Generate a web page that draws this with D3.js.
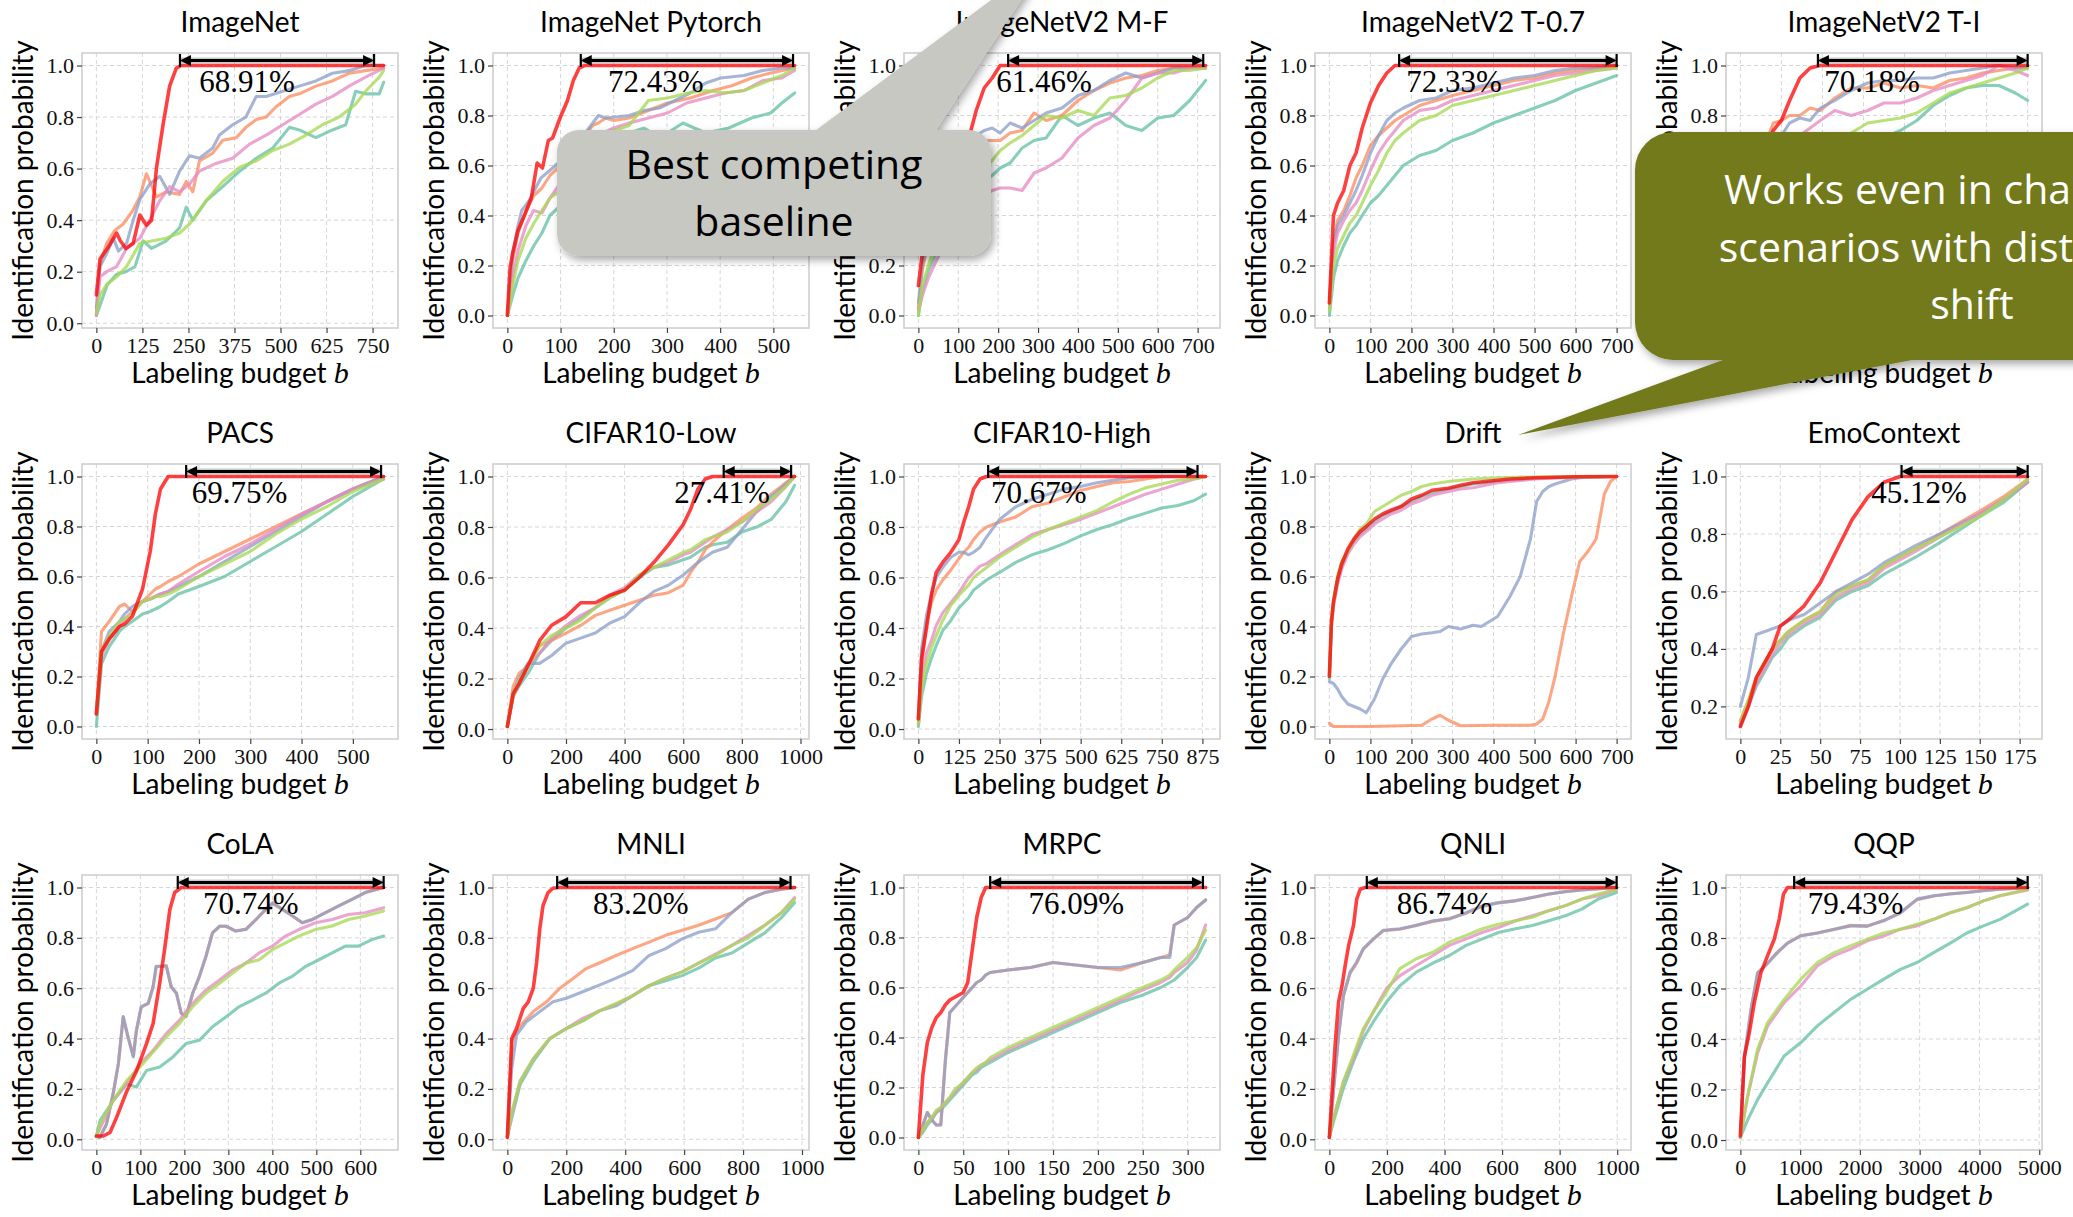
<!DOCTYPE html>
<html><head><meta charset="utf-8">
<script src="https://cdn.jsdelivr.net/npm/d3@7"></script>
<style>body{margin:0;background:#fff;} svg{display:block;}</style>
</head><body>
<script>
// ---------------- DATA ----------------
const SERIES_NAMES = ["Ours", "Baseline A", "Baseline B", "Baseline C", "Baseline D", "Baseline E"];
const SERIES_COLORS = ["#ff0000", "#66c2a5", "#fc8d62", "#8da0cb", "#e78ac3", "#a6d854"];

const TITLES = ["ImageNet", "ImageNet Pytorch", "ImageNetV2 M-F", "ImageNetV2 T-0.7", "ImageNetV2 T-I",
  "PACS", "CIFAR10-Low", "CIFAR10-High", "Drift", "EmoContext",
  "CoLA", "MNLI", "MRPC", "QNLI", "QQP"];

const X_TICKS = [
  [0,125,250,375,500,625,750], [0,100,200,300,400,500], [0,100,200,300,400,500,600,700],
  [0,100,200,300,400,500,600,700], [0,100,200,300,400,500,600,700],
  [0,100,200,300,400,500], [0,200,400,600,800,1000], [0,125,250,375,500,625,750,875],
  [0,100,200,300,400,500,600,700], [0,25,50,75,100,125,150,175],
  [0,100,200,300,400,500,600], [0,200,400,600,800,1000], [0,50,100,150,200,250,300],
  [0,200,400,600,800,1000], [0,1000,2000,3000,4000,5000]];
const Y_TICKS = [0, 0.2, 0.4, 0.6, 0.8, 1.0];

// gap annotation: arrow start / end (budget), label, label position (budget)
const GAP_START = [227, 138, 225, 170, 189, 175, 738, 215, null, 101, 185, 169, 80, 130, 900];
const GAP_END   = [754, 537, 714, 700, 700, 555, 968, 860, null, 180, 653, 961, 317, 998, 4806];
const GAP_LABEL = ["68.91%", "72.43%", "61.46%", "72.33%", "70.18%", "69.75%", "27.41%", "70.67%", null,
  "45.12%", "70.74%", "83.20%", "76.09%", "86.74%", "79.43%"];
const GAP_LABEL_X = [409, 279, 315, 304, 321, 279, 732, 371, null, 112, 351, 453, 176, 400, 1928];

// series order in each panel: [ours(red), teal, orange, purple, pink, green]
const imagenet = [
  [[0,.11],[10,.25],[30,.29],[55,.35],[65,.32],[80,.29],[100,.31],[118,.42],[136,.38],[150,.40],[163,.60],[181,.77],[199,.92],[217,.99],[231,1],[780,1]],
  [[0,.03],[10,.07],[30,.15],[55,.19],[80,.20],[105,.22],[127,.32],[150,.29],[190,.32],[226,.37],[244,.45],[262,.40],[298,.475],[343,.53],[389,.59],[434,.64],[479,.68],[524,.76],[551,.75],[596,.72],[641,.75],[677,.77],[704,.90],[731,.89],[768,.89],[780,.935]],
  [[0,.035],[10,.23],[28,.31],[50,.36],[73,.385],[100,.44],[118,.49],[136,.58],[163,.49],[190,.51],[226,.50],[244,.55],[262,.51],[280,.63],[316,.66],[343,.71],[380,.72],[406,.76],[434,.79],[461,.80],[488,.84],[524,.88],[551,.89],[596,.92],[641,.94],[686,.97],[731,.98],[780,.99]],
  [[0,.06],[10,.22],[28,.27],[46,.33],[60,.28],[82,.31],[100,.40],[118,.48],[145,.54],[172,.57],[199,.50],[226,.59],[253,.65],[280,.64],[316,.68],[334,.73],[370,.77],[406,.80],[434,.88],[461,.88],[506,.90],[551,.92],[596,.94],[641,.97],[686,.98],[731,1.0],[780,1.0]],
  [[0,.03],[10,.18],[28,.20],[55,.22],[82,.29],[118,.33],[145,.40],[172,.475],[199,.53],[226,.51],[253,.54],[280,.59],[325,.62],[370,.64],[416,.695],[461,.73],[506,.77],[551,.81],[596,.85],[641,.88],[686,.92],[731,.955],[780,.99]],
  [[0,.04],[10,.11],[28,.15],[55,.18],[82,.22],[118,.31],[154,.32],[190,.33],[226,.35],[253,.385],[298,.475],[343,.55],[389,.605],[434,.63],[479,.67],[524,.695],[569,.73],[614,.77],[659,.80],[704,.85],[731,.90],[768,.955],[780,.98]]
];

const pytorch = [
  [[0,0],[5,.19],[10,.25],[20,.34],[34,.41],[45,.47],[56,.61],[66,.59],[77,.70],[85,.71],[99,.79],[113,.86],[124,.94],[135,.99],[145,1],[540,1]],
  [[0,0],[10,.08],[20,.15],[35,.22],[50,.28],[65,.33],[80,.40],[100,.44],[120,.52],[140,.58],[160,.63],[180,.68],[200,.71],[230,.73],[257,.75],[280,.72],[301,.73],[330,.77],[373,.73],[416,.75],[459,.79],[495,.81],[516,.85],[540,.89]],
  [[0,0],[10,.22],[20,.33],[35,.42],[50,.48],[65,.51],[80,.56],[100,.60],[120,.64],[140,.70],[160,.76],[171,.77],[185,.79],[200,.78],[229,.79],[265,.82],[301,.85],[344,.87],[387,.90],[423,.92],[459,.95],[495,.97],[540,.99]],
  [[0,0],[10,.25],[20,.36],[27,.42],[41,.46],[63,.55],[85,.59],[106,.63],[130,.68],[150,.74],[171,.80],[185,.79],[229,.80],[257,.82],[286,.83],[315,.86],[344,.89],[373,.93],[401,.95],[445,.96],[480,.98],[516,.99],[540,.99]],
  [[0,0],[10,.15],[20,.26],[35,.36],[49,.42],[65,.41],[80,.47],[100,.53],[120,.58],[140,.64],[160,.69],[180,.73],[200,.75],[229,.77],[265,.79],[301,.81],[337,.85],[373,.87],[409,.89],[445,.90],[480,.94],[516,.95],[540,.98]],
  [[0,0],[10,.12],[20,.22],[35,.31],[50,.37],[65,.42],[80,.47],[100,.50],[120,.56],[140,.62],[160,.68],[180,.72],[200,.74],[229,.76],[265,.86],[301,.87],[340,.89],[373,.90],[409,.89],[445,.90],[480,.93],[516,.96],[540,.99]]
];

const mf_x = [0,10,25,45,65,85,105,125,145,165,185,205,230,260,290,320,360,400,440,480,520,560,600,640,680,720];
const mf = [
  [.12,.25,.33,.42,.50,.55,.60,.70,.82,.91,.95,1,1,1,1,1,1,1,1,1,1,1,1,1,1,1],
  [0,.10,.18,.25,.32,.38,.43,.48,.51,.54,.56,.59,.61,.67,.70,.71,.80,.76,.79,.81,.76,.74,.79,.80,.86,.94],
  [.03,.18,.30,.40,.50,.57,.62,.66,.69,.70,.70,.70,.73,.74,.81,.78,.80,.86,.90,.93,.95,.96,.98,.99,.99,.99],
  [.05,.20,.35,.45,.55,.62,.66,.70,.72,.74,.75,.73,.77,.75,.78,.81,.83,.88,.90,.94,.97,.95,.97,.99,.99,.99],
  [.02,.08,.15,.22,.28,.33,.38,.42,.46,.48,.50,.51,.51,.50,.57,.59,.63,.71,.76,.79,.86,.95,.97,.97,.99,.99],
  [0,.12,.20,.30,.38,.44,.50,.54,.57,.59,.62,.66,.69,.72,.76,.80,.79,.82,.80,.87,.88,.91,.95,.98,.98,.99]
];

const t07_x = [0,10,20,35,50,65,80,100,120,140,160,180,220,260,300,350,400,450,500,550,600,650,700];
const t07 = [
  [.05,.40,.45,.50,.60,.65,.75,.85,.92,.97,1,1,1,1,1,1,1,1,1,1,1,1,1],
  [0,.15,.22,.28,.33,.36,.40,.45,.48,.52,.56,.60,.64,.66,.70,.73,.77,.80,.83,.86,.90,.93,.96],
  [.05,.30,.38,.42,.48,.55,.60,.68,.72,.75,.78,.80,.84,.86,.88,.90,.92,.94,.95,.97,.98,.99,1.0],
  [.05,.28,.36,.40,.45,.50,.56,.65,.72,.78,.81,.83,.86,.87,.90,.91,.93,.95,.96,.98,.99,.99,1.0],
  [.03,.25,.33,.38,.42,.45,.50,.58,.65,.70,.74,.78,.82,.83,.86,.88,.90,.92,.94,.96,.97,.98,.99],
  [.02,.20,.27,.32,.37,.40,.45,.52,.58,.65,.70,.73,.78,.80,.84,.86,.88,.90,.92,.94,.96,.98,.99]
];

const ti_x = [0,20,40,60,80,100,120,145,170,195,230,270,310,350,390,430,470,510,550,590,630,670,700];
const ti = [
  [.05,.45,.55,.65,.74,.78,.86,.95,.99,1,1,1,1,1,1,1,1,1,1,1,1,1,1],
  [0,.15,.25,.32,.38,.42,.47,.52,.56,.60,.63,.66,.68,.71,.74,.78,.84,.88,.91,.92,.92,.89,.86],
  [.05,.40,.55,.68,.77,.78,.80,.80,.83,.82,.87,.91,.91,.93,.91,.92,.91,.94,.95,.97,.98,.99,.99],
  [.05,.30,.45,.58,.66,.72,.77,.79,.78,.83,.86,.90,.93,.94,.94,.95,.95,.97,.98,.99,1.0,.99,.99],
  [.03,.25,.38,.48,.56,.62,.68,.72,.75,.78,.82,.80,.82,.85,.85,.87,.90,.92,.94,.96,1.0,.98,.96],
  [.02,.20,.30,.38,.45,.50,.55,.60,.64,.67,.70,.73,.77,.78,.79,.81,.85,.89,.91,.93,.95,.97,.99]
];

const pacs_x = [0,10,25,45,55,70,90,105,115,125,140,160,200,250,300,350,400,450,500,560];
const pacs = [
  [.05,.30,.35,.40,.41,.44,.55,.70,.85,.95,1,1,1,1,1,1,1,1,1,1],
  [0,.25,.32,.38,.40,.42,.45,.46,.47,.48,.50,.53,.56,.60,.66,.72,.78,.85,.92,.99],
  [.05,.38,.42,.48,.49,.46,.50,.53,.55,.56,.58,.60,.65,.70,.75,.80,.85,.90,.95,1.0],
  [.05,.30,.38,.42,.45,.48,.50,.51,.52,.53,.54,.56,.60,.66,.72,.78,.84,.90,.95,1.0],
  [.05,.28,.35,.40,.43,.46,.50,.51,.52,.53,.54,.57,.62,.68,.73,.79,.85,.90,.95,.99],
  [.05,.30,.36,.42,.43,.45,.50,.51,.52,.52,.53,.55,.60,.65,.70,.77,.83,.88,.94,.99]
];

const cifarLow_x = [0,20,40,70,110,150,200,250,300,350,400,450,500,550,600,625,650,675,700,750,800,850,900,950,980];
const cifarLow = [
  [.01,.14,.18,.25,.35,.41,.445,.50,.50,.53,.55,.60,.66,.73,.81,.87,.95,.99,1,1,1,1,1,1,1],
  [.01,.13,.17,.22,.30,.35,.40,.44,.48,.52,.55,.60,.64,.65,.67,.68,.70,.72,.73,.74,.78,.80,.83,.90,.965],
  [.01,.17,.22,.25,.33,.35,.38,.41,.45,.47,.49,.51,.53,.54,.57,.62,.66,.71,.74,.79,.835,.875,.93,.975,1.0],
  [.01,.14,.20,.26,.26,.29,.34,.36,.38,.42,.445,.50,.545,.57,.61,.635,.66,.68,.70,.72,.79,.86,.92,.97,1.0],
  [.01,.13,.18,.25,.30,.36,.41,.45,.48,.53,.56,.61,.64,.66,.69,.70,.72,.74,.76,.79,.82,.86,.90,.96,1.0],
  [.01,.14,.19,.25,.33,.37,.40,.43,.48,.52,.55,.61,.64,.67,.70,.71,.73,.75,.76,.78,.82,.87,.91,.96,1.0]
];

const cifarHigh_x = [0,10,25,40,55,75,100,125,140,155,170,190,210,250,300,350,400,450,500,550,600,650,700,750,800,850,885];
const cifarHigh = [
  [.04,.28,.40,.53,.62,.66,.70,.75,.82,.88,.95,.99,1,1,1,1,1,1,1,1,1,1,1,1,1,1,1],
  [.01,.13,.22,.28,.33,.39,.43,.48,.50,.52,.55,.57,.59,.62,.66,.69,.71,.735,.765,.79,.81,.835,.855,.875,.885,.905,.93],
  [.04,.25,.42,.50,.55,.59,.63,.675,.70,.72,.75,.78,.80,.82,.84,.88,.895,.92,.945,.96,.975,.98,.99,1,1,1,1],
  [.04,.32,.45,.53,.60,.64,.68,.70,.70,.69,.70,.72,.76,.83,.88,.91,.93,.95,.96,.975,.985,.995,1,1,1,1,1],
  [.02,.20,.30,.35,.41,.46,.50,.54,.57,.60,.62,.645,.655,.69,.73,.77,.79,.81,.83,.855,.88,.905,.93,.95,.97,.99,1.0],
  [.02,.16,.26,.32,.37,.43,.49,.53,.55,.57,.60,.62,.64,.68,.72,.76,.79,.815,.84,.865,.90,.93,.955,.97,.985,.99,1.0]
];

const drift = [
  [[0,.20],[5,.42],[10,.50],[20,.59],[30,.65],[45,.71],[60,.75],[75,.78],[90,.80],[110,.83],[130,.85],[150,.865],[175,.88],[200,.91],[225,.925],[250,.945],[290,.953],[320,.965],[350,.975],[380,.98],[410,.985],[440,.99],[500,.995],[600,.999],[700,1]],
  [[0,.19],[5,.40],[10,.49],[20,.58],[30,.64],[45,.70],[60,.74],[75,.77],[90,.79],[110,.82],[130,.845],[150,.86],[175,.88],[200,.90],[225,.92],[250,.935],[290,.95],[320,.96],[350,.97],[380,.975],[410,.98],[440,.985],[500,.993],[600,.998],[700,1]],
  [[0,.013],[10,0],[100,0],[225,.005],[250,.03],[270,.045],[290,.025],[320,.003],[400,.005],[490,.005],[505,.01],[520,.03],[535,.1],[550,.2],[570,.37],[590,.52],[610,.66],[630,.70],[650,.75],[670,.93],[685,.98],[700,1]],
  [[0,.18],[10,.172],[20,.15],[30,.12],[45,.09],[60,.08],[75,.07],[90,.055],[110,.11],[130,.19],[150,.25],[175,.31],[200,.36],[225,.37],[250,.375],[270,.38],[290,.40],[320,.39],[350,.405],[370,.40],[390,.42],[410,.44],[440,.52],[465,.60],[490,.75],[505,.90],[520,.94],[535,.96],[550,.97],[570,.98],[590,.99],[620,.997],[700,1]],
  [[0,.21],[5,.40],[10,.48],[20,.57],[30,.63],[45,.69],[60,.73],[75,.76],[90,.78],[110,.81],[130,.83],[150,.85],[175,.865],[200,.89],[225,.905],[250,.925],[290,.94],[320,.95],[350,.955],[380,.965],[410,.975],[440,.98],[500,.99],[600,.997],[700,1]],
  [[0,.20],[5,.42],[10,.50],[20,.60],[30,.66],[45,.70],[60,.75],[75,.79],[90,.81],[110,.86],[130,.88],[150,.90],[175,.925],[200,.94],[225,.96],[250,.97],[290,.98],[320,.985],[350,.99],[410,.995],[500,.998],[700,1]]
];

const emo_x = [0,5,10,15,20,25,30,40,50,60,70,80,90,100,110,125,150,165,180];
const emo = [
  [.13,.20,.30,.35,.40,.48,.50,.55,.63,.74,.85,.93,.98,1,1,1,1,1,1],
  [.13,.20,.27,.32,.37,.40,.44,.48,.51,.57,.60,.62,.66,.69,.72,.77,.86,.91,.98],
  [.15,.22,.30,.35,.40,.43,.46,.50,.53,.60,.62,.64,.69,.72,.75,.80,.88,.93,.99],
  [.20,.30,.45,.46,.47,.48,.50,.52,.56,.60,.63,.66,.70,.73,.76,.80,.87,.92,.98],
  [.14,.20,.28,.33,.38,.42,.45,.49,.52,.58,.61,.63,.68,.71,.74,.79,.87,.92,.98],
  [.15,.22,.30,.35,.40,.43,.46,.50,.53,.59,.62,.64,.69,.72,.75,.79,.86,.92,.99]
];

const cola = [
  [[0,.013],[16,.013],[31,.027],[46,.087],[69,.19],[91,.27],[114,.38],[129,.46],[144,.62],[155,.753],[167,.913],[178,.98],[193,1],[653,1]],
  [[0,.01],[8,.073],[38,.153],[69,.22],[91,.207],[114,.273],[144,.287],[174,.327],[204,.38],[234,.393],[264,.447],[295,.487],[325,.527],[355,.553],[385,.58],[415,.62],[445,.647],[476,.687],[506,.713],[536,.74],[566,.767],[596,.767],[626,.793],[653,.807]],
  [[0,.013],[8,.007],[23,.06],[38,.18],[50,.30],[61,.485],[72,.405],[84,.33],[91,.43],[102,.525],[118,.54],[129,.605],[136,.685],[159,.69],[170,.605],[182,.58],[193,.50],[204,.49],[219,.58],[234,.645],[249,.725],[264,.82],[280,.845],[295,.845],[317,.827],[340,.835],[363,.873],[385,.913],[401,.935],[423,.913],[446,.887],[468,.86],[491,.873],[521,.90],[551,.927],[581,.953],[611,.98],[653,1.0]],
  [[0,.013],[8,.007],[23,.06],[38,.18],[50,.30],[61,.487],[72,.407],[84,.327],[91,.433],[102,.527],[118,.54],[129,.607],[136,.687],[159,.687],[170,.607],[182,.58],[193,.50],[204,.487],[219,.58],[234,.647],[249,.727],[264,.82],[280,.847],[295,.847],[317,.827],[340,.833],[363,.873],[385,.913],[401,.94],[423,.913],[446,.887],[468,.86],[491,.873],[521,.90],[551,.927],[581,.953],[611,.98],[653,1.0]],
  [[0,.013],[38,.153],[69,.22],[99,.30],[129,.353],[159,.42],[189,.473],[219,.54],[249,.593],[280,.633],[310,.673],[340,.70],[370,.74],[400,.767],[430,.807],[460,.833],[498,.86],[536,.873],[573,.893],[611,.90],[653,.92]],
  [[0,.01],[8,.06],[38,.153],[69,.233],[99,.287],[129,.347],[159,.407],[189,.46],[219,.527],[249,.58],[280,.62],[310,.66],[340,.70],[370,.713],[400,.753],[430,.78],[460,.807],[498,.833],[536,.847],[573,.873],[611,.887],[653,.907]]
];

const mnli = [
  [[0,.007],[15,.40],[31,.44],[54,.52],[71,.546],[88,.60],[99,.70],[110,.835],[121,.928],[138,.98],[155,.997],[178,1],[975,1]],
  [[0,.01],[15,.085],[43,.217],[88,.31],[144,.40],[200,.44],[256,.47],[312,.51],[369,.53],[425,.57],[481,.61],[537,.63],[593,.65],[649,.68],[706,.72],[762,.74],[818,.78],[874,.82],[930,.88],[975,.94]],
  [[0,.01],[15,.39],[43,.45],[88,.507],[133,.546],[178,.60],[222,.638],[267,.678],[312,.70],[369,.73],[425,.757],[481,.783],[537,.81],[593,.83],[649,.85],[706,.875],[762,.90],[818,.954],[874,.98],[930,.993],[975,1]],
  [[0,.01],[15,.283],[31,.414],[65,.467],[110,.507],[155,.546],[200,.56],[256,.586],[312,.612],[369,.64],[425,.67],[481,.73],[537,.757],[593,.796],[649,.822],[706,.836],[762,.90],[818,.954],[874,.98],[930,.993],[975,1]],
  [[0,.01],[15,.10],[43,.23],[88,.32],[144,.40],[200,.44],[256,.48],[312,.51],[369,.535],[425,.57],[481,.61],[537,.64],[593,.665],[649,.70],[706,.735],[762,.77],[818,.81],[874,.85],[930,.90],[975,.96]],
  [[0,.01],[15,.11],[43,.23],[88,.32],[144,.40],[200,.44],[256,.47],[312,.51],[369,.54],[425,.57],[481,.61],[537,.64],[593,.665],[649,.70],[706,.73],[762,.77],[818,.80],[874,.85],[930,.90],[975,.954]]
];

const mrpc_x = [0,5,10,15,20,25,30,35,40,50,55,60,65,70,75,80,100,125,150,175,200,225,250,270,280,285,300,310,320];
const mrpc = [
  [0,.25,.38,.44,.48,.50,.53,.55,.56,.58,.62,.75,.88,.96,1,1,1,1,1,1,1,1,1,1,1,1,1,1,1],
  [0,.02,.05,.07,.10,.11,.13,.15,.17,.21,.23,.25,.26,.28,.29,.30,.34,.38,.42,.46,.50,.54,.57,.60,.62,.63,.68,.72,.79],
  [0,.05,.10,.07,.05,.05,.31,.50,.52,.56,.58,.60,.62,.63,.65,.66,.67,.68,.70,.69,.68,.67,.70,.72,.73,.85,.88,.92,.95],
  [0,.05,.10,.07,.05,.05,.30,.50,.52,.56,.58,.60,.62,.63,.65,.66,.67,.68,.70,.69,.68,.68,.70,.72,.72,.85,.88,.92,.95],
  [0,.03,.06,.08,.10,.12,.14,.16,.18,.22,.24,.26,.27,.29,.30,.31,.35,.39,.43,.47,.51,.55,.59,.62,.64,.66,.70,.75,.85],
  [0,.03,.06,.08,.11,.12,.14,.16,.19,.22,.24,.26,.28,.29,.30,.32,.36,.40,.44,.48,.52,.56,.60,.63,.65,.67,.72,.76,.83]
];

const qnli = [
  [[0,.007],[9,.18],[21,.39],[32,.546],[44,.61],[55,.69],[67,.77],[84,.85],[95,.954],[107,.993],[124,1],[998,1]],
  [[0,.01],[15,.072],[49,.204],[84,.31],[118,.40],[153,.467],[199,.546],[245,.61],[302,.664],[360,.70],[417,.73],[475,.77],[532,.796],[590,.822],[647,.836],[705,.849],[762,.868],[820,.888],[877,.914],[934,.954],[998,.98]],
  [[0,.007],[15,.2],[32,.41],[49,.57],[72,.66],[95,.70],[118,.755],[153,.795],[187,.828],[245,.834],[302,.85],[360,.865],[417,.877],[475,.898],[532,.925],[590,.94],[647,.948],[705,.96],[762,.973],[820,.984],[877,.99],[998,1]],
  [[0,.007],[15,.204],[32,.414],[49,.572],[72,.664],[95,.704],[118,.757],[153,.796],[187,.83],[245,.836],[302,.849],[360,.868],[417,.875],[475,.90],[532,.928],[590,.94],[647,.947],[705,.96],[762,.974],[820,.983],[877,.99],[998,1]],
  [[0,.01],[15,.085],[49,.23],[84,.32],[118,.43],[153,.506],[199,.60],[245,.65],[302,.69],[360,.73],[417,.77],[475,.796],[532,.822],[590,.842],[647,.868],[705,.888],[762,.908],[820,.928],[877,.954],[934,.967],[998,.993]],
  [[0,.01],[15,.085],[49,.23],[84,.335],[118,.44],[153,.506],[199,.585],[245,.678],[302,.717],[360,.743],[417,.783],[475,.81],[532,.836],[590,.855],[647,.868],[705,.882],[762,.908],[820,.928],[877,.954],[934,.974],[998,.993]]
];

const qqp = [
  [[0,.016],[67,.33],[150,.425],[233,.544],[344,.663],[456,.73],[567,.795],[650,.875],[722,.974],[789,1],[4806,1]],
  [[0,.01],[122,.08],[289,.16],[456,.227],[733,.333],[1011,.386],[1289,.452],[1567,.505],[1844,.557],[2122,.597],[2400,.637],[2678,.676],[2956,.703],[3233,.742],[3511,.78],[3789,.82],[4067,.848],[4344,.874],[4806,.934]],
  [[0,.01],[67,.32],[178,.515],[289,.66],[456,.70],[622,.745],[789,.78],[1011,.81],[1289,.82],[1567,.834],[1844,.85],[2122,.846],[2400,.87],[2678,.90],[2956,.952],[3233,.966],[3511,.975],[3789,.98],[4067,.988],[4344,.993],[4806,.999]],
  [[0,.01],[67,.33],[178,.518],[289,.663],[456,.70],[622,.742],[789,.78],[1011,.808],[1289,.82],[1567,.835],[1844,.848],[2122,.848],[2400,.868],[2678,.90],[2956,.954],[3233,.967],[3511,.974],[3789,.98],[4067,.987],[4344,.993],[4806,.999]],
  [[0,.01],[122,.174],[289,.346],[456,.452],[733,.544],[1011,.61],[1289,.69],[1567,.73],[1844,.756],[2122,.789],[2400,.808],[2678,.835],[2956,.848],[3233,.874],[3511,.90],[3789,.92],[4067,.947],[4344,.967],[4806,.99]],
  [[0,.01],[122,.174],[289,.36],[456,.465],[733,.557],[1011,.637],[1289,.703],[1567,.742],[1844,.769],[2122,.795],[2400,.82],[2678,.835],[2956,.855],[3233,.874],[3511,.90],[3789,.92],[4067,.947],[4344,.967],[4806,.993]]
];

const PANEL_SERIES = [imagenet, pytorch, mf, t07, ti, pacs, cifarLow, cifarHigh, drift, emo, cola, mnli, mrpc, qnli, qqp];
const PANEL_X = [null, null, mf_x, t07_x, ti_x, pacs_x, cifarLow_x, cifarHigh_x, null, emo_x, null, null, mrpc_x, null, null];

const CALLOUT_GRAY = ["Best competing", "baseline"];
const CALLOUT_OLIVE = ["Works even in challenging", "scenarios with distribution", "shift"];

// ---------------- DRAW ----------------
const W = 2073, H = 1217;
const SANS = "Lato, 'Open Sans', sans-serif";
const SERIF = "'Liberation Serif', 'DejaVu Serif', serif";
const CALLOUT_FONT = "'Open Sans', Lato, sans-serif";

const svg = d3.select("body").append("svg").attr("width", W).attr("height", H);
svg.append("rect").attr("width", W).attr("height", H).attr("fill", "#fff");
const defs = svg.append("defs");
const filt = defs.append("filter").attr("id", "shadow")
  .attr("x", "-20%").attr("y", "-30%").attr("width", "150%").attr("height", "170%");
filt.append("feDropShadow").attr("dx", 3).attr("dy", 4).attr("stdDeviation", 4)
  .attr("flood-color", "#000").attr("flood-opacity", 0.35);

const PW = 316, PH = 275, LEFT0 = 82, TOP0 = 53, STEP = 411;
const toPairs = (s, xs) => Array.isArray(s[0]) ? s : s.map((v, k) => [xs[k], v]);

PANEL_SERIES.forEach((seriesList, i) => {
  const col = i % 5, row = Math.floor(i / 5);
  const g = svg.append("g").attr("transform", `translate(${LEFT0 + col * STEP},${TOP0 + row * STEP})`);
  const lines = seriesList.map(s => toPairs(s, PANEL_X[i]));
  const all = lines.flat();
  const [x0, x1] = d3.extent(all, d => d[0]);
  const [y0, y1] = d3.extent(all, d => d[1]);
  const xp = (x1 - x0) * 0.05, yp = (y1 - y0) * 0.05;
  const x = d3.scaleLinear().domain([x0 - xp, x1 + xp]).range([0, PW]);
  const y = d3.scaleLinear().domain([y0 - yp, y1 + yp]).range([PH, 0]);
  const xt = X_TICKS[i].filter(v => v >= x.domain()[0] && v <= x.domain()[1]);
  const yt = Y_TICKS.filter(v => v >= y.domain()[0] - 1e-9 && v <= y.domain()[1]);

  // grid
  g.append("g").selectAll("line").data(xt).join("line")
    .attr("x1", d => x(d)).attr("x2", d => x(d)).attr("y1", 0).attr("y2", PH)
    .attr("stroke", "#d6d6d6").attr("stroke-width", 1).attr("stroke-dasharray", "4,3");
  g.append("g").selectAll("line").data(yt).join("line")
    .attr("y1", d => y(d)).attr("y2", d => y(d)).attr("x1", 0).attr("x2", PW)
    .attr("stroke", "#d6d6d6").attr("stroke-width", 1).attr("stroke-dasharray", "4,3");

  // lines (baselines first, ours on top)
  const lineGen = d3.line().x(d => x(d[0])).y(d => y(d[1]));
  const order = [1, 2, 3, 4, 5, 0];
  order.forEach(k => {
    g.append("path").datum(lines[k]).attr("d", lineGen)
      .attr("fill", "none").attr("stroke", SERIES_COLORS[k])
      .attr("stroke-opacity", k === 0 ? 0.75 : 0.78)
      .attr("stroke-width", k === 0 ? 3.6 : 3.1)
      .attr("stroke-linejoin", "round").attr("stroke-linecap", "round")
      .append("title").text(SERIES_NAMES[k]);
  });

  // frame
  g.append("rect").attr("width", PW).attr("height", PH)
    .attr("fill", "none").attr("stroke", "#cccccc").attr("stroke-width", 1.5);

  // axes
  const ax = g.append("g").attr("transform", `translate(0,${PH})`)
    .call(d3.axisBottom(x).tickValues(xt).tickFormat(d3.format("d")).tickSize(5).tickPadding(4));
  const ay = g.append("g")
    .call(d3.axisLeft(y).tickValues(yt).tickFormat(d3.format(".1f")).tickSize(5).tickPadding(3));
  [ax, ay].forEach(a => {
    a.select(".domain").remove();
    a.selectAll(".tick line").attr("stroke", "#444").attr("stroke-width", 1.2);
    a.selectAll(".tick text").attr("font-family", SERIF).attr("font-size", 22).attr("fill", "#111");
  });

  // titles / labels
  g.append("text").attr("x", PW / 2).attr("y", -21).attr("text-anchor", "middle")
    .attr("font-family", SANS).attr("font-size", 28).attr("fill", "#000").text(TITLES[i]);
  g.append("text").attr("transform", `translate(-49,${PH / 2}) rotate(-90)`)
    .attr("text-anchor", "middle").attr("font-family", SANS).attr("font-size", 28).attr("fill", "#000")
    .text("Identification probability");
  const xl = g.append("text").attr("x", PW / 2).attr("y", PH + 55).attr("text-anchor", "middle")
    .attr("font-family", SANS).attr("font-size", 28).attr("fill", "#000");
  xl.append("tspan").text("Labeling budget ");
  xl.append("tspan").attr("font-family", SERIF).attr("font-style", "italic").attr("font-size", 30).text("b");

  // gap annotation
  if (GAP_START[i] != null) {
    const a = g.append("g");
    const ayy = y(1) - 5;
    const xs = x(GAP_START[i]), xe = x(GAP_END[i]);
    a.append("line").attr("x1", xs).attr("x2", xe).attr("y1", ayy).attr("y2", ayy)
      .attr("stroke", "#888").attr("stroke-opacity", 0.45).attr("stroke-width", 6);
    a.append("line").attr("x1", xs + 4).attr("x2", xe - 4).attr("y1", ayy).attr("y2", ayy)
      .attr("stroke", "#000").attr("stroke-width", 3);
    a.append("path").attr("d", `M${xs},${ayy}L${xs + 11},${ayy - 5.5}L${xs + 11},${ayy + 5.5}Z`).attr("fill", "#000");
    a.append("path").attr("d", `M${xe},${ayy}L${xe - 11},${ayy - 5.5}L${xe - 11},${ayy + 5.5}Z`).attr("fill", "#000");
    [xs, xe].forEach(px => a.append("line").attr("x1", px).attr("x2", px)
      .attr("y1", ayy - 6.5).attr("y2", ayy + 6.5).attr("stroke", "#000").attr("stroke-width", 2.2));
    g.append("text").attr("x", x(GAP_LABEL_X[i])).attr("y", y(1) + 26).attr("text-anchor", "middle")
      .attr("font-family", SERIF).attr("font-size", 31).attr("fill", "#000").text(GAP_LABEL[i]);
  }
});

// ---------------- CALLOUTS ----------------
const c1 = svg.append("g").attr("filter", "url(#shadow)");
c1.append("path").attr("d", "M800,142L928,142L1049,-43Z").attr("fill", "#c8c8c3");
c1.append("rect").attr("x", 557).attr("y", 130).attr("width", 434).attr("height", 126).attr("rx", 22)
  .attr("fill", "#c8c8c3");
const t1 = svg.append("g");
CALLOUT_GRAY.forEach((s, k) => t1.append("text").attr("x", 774).attr("y", 179 + k * 57)
  .attr("text-anchor", "middle").attr("font-family", CALLOUT_FONT).attr("font-size", 41)
  .attr("fill", "#000").text(s));

const c2 = svg.append("g").attr("filter", "url(#shadow)");
c2.append("path").attr("d", "M1518,435L1750,350L1965,350Z").attr("fill", "#737a1f");
c2.append("rect").attr("x", 1635).attr("y", 132).attr("width", 700).attr("height", 228).attr("rx", 38)
  .attr("fill", "#737a1f");
const t2 = svg.append("g");
CALLOUT_OLIVE.forEach((s, k) => t2.append("text").attr("x", 1972).attr("y", 204 + k * 57.5)
  .attr("text-anchor", "middle").attr("font-family", CALLOUT_FONT).attr("font-size", 41)
  .attr("fill", "#fff").text(s));
</script>
</body></html>
